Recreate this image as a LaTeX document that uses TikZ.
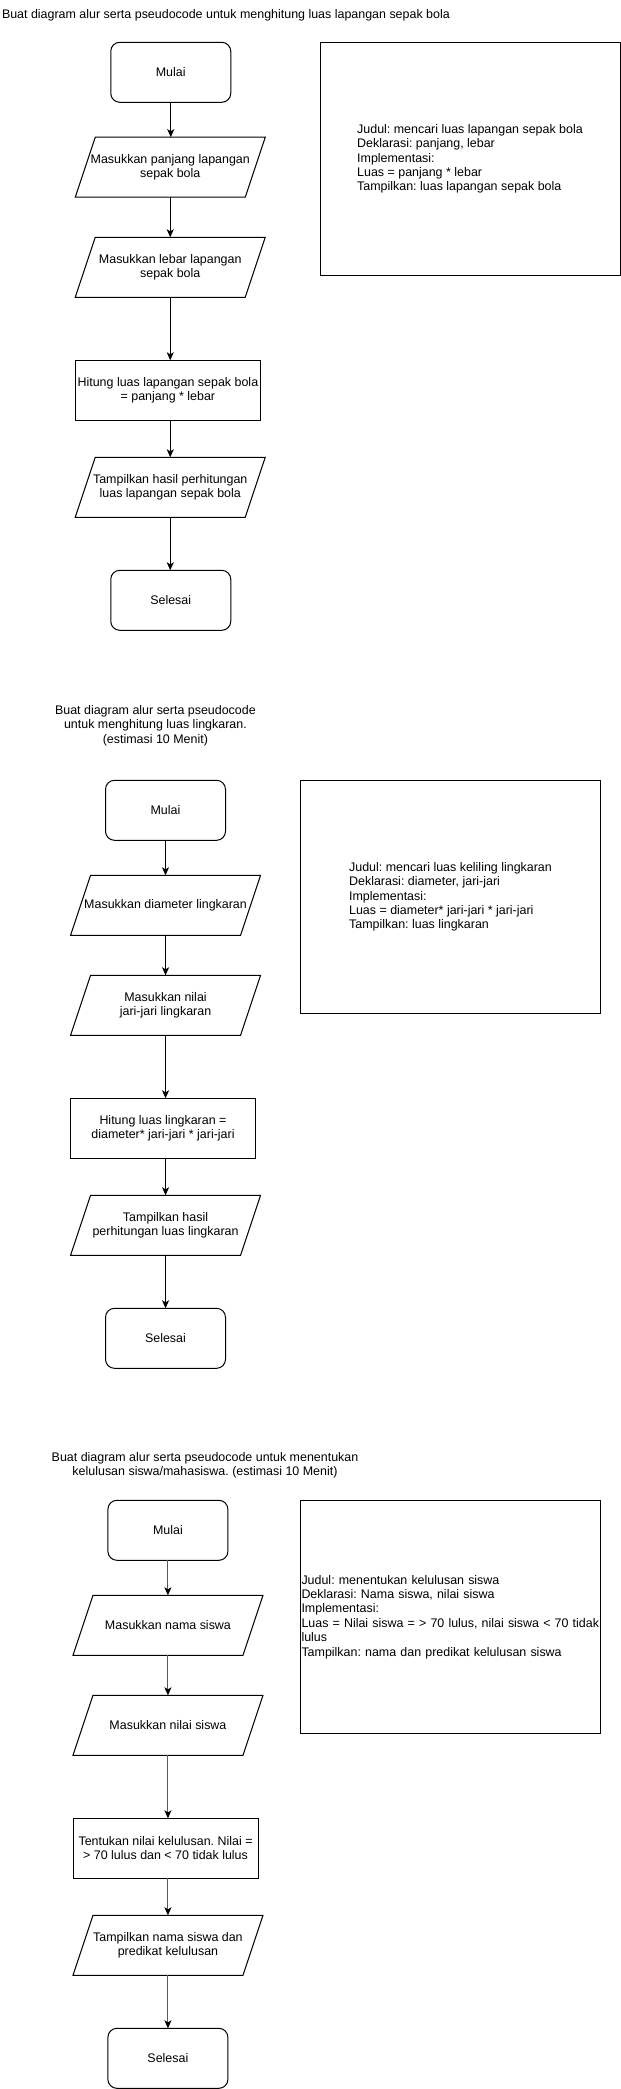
\documentclass[tikz,border=0pt]{standalone}
\usepackage{fontspec}
\setmainfont{Liberation Sans}
\usetikzlibrary{arrows.meta,calc}
\frenchspacing
\begin{document}
\begin{tikzpicture}[x=1pt,y=-1pt,
  every node/.style={font=\fontsize{12.45}{14.4}\selectfont, inner sep=0pt, outer sep=0pt},
  term/.style={draw, line width=1pt, rounded corners=9pt, minimum width=120pt, minimum height=60pt, align=center},
  io/.style={minimum width=190pt, minimum height=60pt, align=center},
  proc/.style={draw, line width=1pt, minimum width=185pt, minimum height=60pt, align=center},
  note/.style={draw, line width=1pt, minimum width=300pt, minimum height=233pt, align=left},
  conn/.style={line width=1pt, -{Stealth[length=8pt,width=7pt,inset=2pt]}},
  conng/.style={line width=1pt, draw=black!65, -{Stealth[length=8pt,width=7pt,inset=2pt,color=black]}},
  iob/.style={line width=1pt, line join=miter}
]
\useasboundingbox (0,0) rectangle (621,2089);

% ---------- Section 1 ----------
\node[anchor=west] (t1) at (2,15.7) {Buat diagram alur serta pseudocode untuk menghitung luas lapangan sepak bola};
\node[term] (m1) at (170.75,72.3) {Mulai};
\node[io] (p1) at (170.25,167.2) {Masukkan panjang lapangan\\sepak bola};
\node[io] (p2) at (170.25,267.3) {Masukkan lebar lapangan\\sepak bola};
\node[proc] (c1) at (167.9,390.3) {Hitung luas lapangan sepak bola\\= panjang * lebar};
\node[io] (p3) at (170.25,487.3) {Tampilkan hasil perhitungan\\luas lapangan sepak bola};
\node[term] (s1) at (170.75,600.3) {Selesai};
\node[note] (r1) at (470,158.8) {Judul: mencari luas lapangan sepak bola\\Deklarasi: panjang, lebar\\Implementasi:\\Luas = panjang * lebar\\Tampilkan: luas lapangan sepak bola};

% ---------- Section 2 ----------
\node[align=center] (t2) at (155.4,725.7) {Buat diagram alur serta pseudocode\\untuk menghitung luas lingkaran.\\(estimasi 10 Menit)};
\node[term] (m2) at (165.5,810.3) {Mulai};
\node[io] (p21) at (165.55,905.3) {Masukkan diameter lingkaran};
\node[io] (p22) at (165.55,1005.3) {Masukkan nilai\\jari-jari lingkaran};
\node[proc] (c2) at (163,1128.3) {Hitung luas lingkaran =\\diameter* jari-jari * jari-jari};
\node[io] (p23) at (165.55,1225.3) {Tampilkan hasil\\perhitungan luas lingkaran};
\node[term] (s2) at (165.5,1338.3) {Selesai};
\node[note] (r2) at (450.5,896.8) {Judul: mencari luas keliling lingkaran\\Deklarasi: diameter, jari-jari\\Implementasi:\\Luas = diameter* jari-jari * jari-jari\\Tampilkan: luas lingkaran};

% ---------- Section 3 ----------
\node[align=center] (t3) at (205,1465.2) {Buat diagram alur serta pseudocode untuk menentukan\\kelulusan siswa/mahasiswa. (estimasi 10 Menit)};
\node[term] (m3) at (167.9,1530.3) {Mulai};
\node[io] (p31) at (167.95,1625.3) {Masukkan nama siswa};
\node[io] (p32) at (167.95,1725.3) {Masukkan nilai siswa};
\node[proc] (c3) at (165.55,1848.3) {Tentukan nilai kelulusan. Nilai =\\> 70 lulus dan < 70 tidak lulus};
\node[io] (p33) at (167.95,1945.3) {Tampilkan nama siswa dan\\predikat kelulusan};
\node[term] (s3) at (167.9,2058.3) {Selesai};
\node[note] (r3) at (450.5,1616.8) {};
\node[anchor=west, text width=298pt, align=left] (r3t) at ([xshift=1pt]r3.west) {Judul: menentukan kelulusan siswa\\Deklarasi: Nama siswa, nilai siswa\\Implementasi:\\Luas = Nilai siswa = > 70 lulus, nilai siswa < 70 tidak\\lulus\\Tampilkan: nama dan predikat kelulusan siswa};

% parallelogram outlines
\foreach \n in {p1,p2,p3,p21,p22,p23,p31,p32,p33}{
  \draw[iob] ([xshift=20pt]\n.north west) -- (\n.north east) -- ([xshift=-20pt]\n.south east) -- (\n.south west) -- cycle;
}

% connectors
\draw[conn] (m1.south) -- (m1.south |- p1.north);
\draw[conn] (p1.south) -- (p1.south |- p2.north);
\draw[conn] (p2.south) -- (p2.south |- c1.north);
\draw[conn] (p2.south |- c1.south) -- (p3.north);
\draw[conn] (p3.south) -- (p3.south |- s1.north);

\draw[conn] (m2.south) -- (m2.south |- p21.north);
\draw[conn] (p21.south) -- (p21.south |- p22.north);
\draw[conn] (p22.south) -- (p22.south |- c2.north);
\draw[conn] (p22.south |- c2.south) -- (p23.north);
\draw[conn] (p23.south) -- (p23.south |- s2.north);

\draw[conng] (m3.south) -- (m3.south |- p31.north);
\draw[conng] (p31.south) -- (p31.south |- p32.north);
\draw[conng] (p32.south) -- (p32.south |- c3.north);
\draw[conng] (p32.south |- c3.south) -- (p33.north);
\draw[conng] (p33.south) -- (p33.south |- s3.north);
\end{tikzpicture}
\end{document}
